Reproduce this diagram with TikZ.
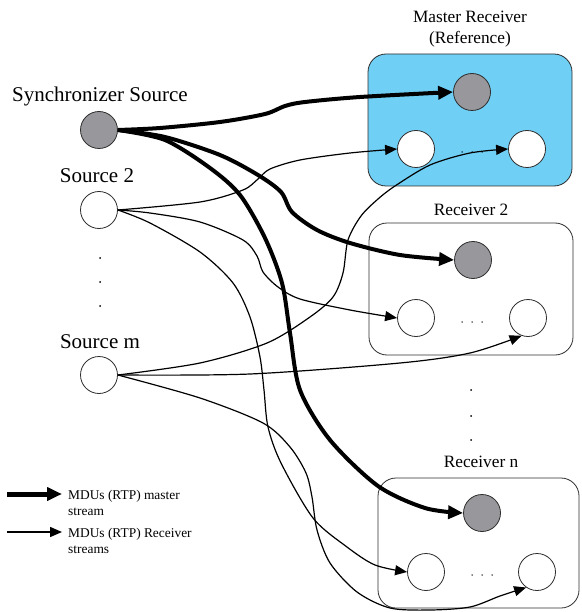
\documentclass[tikz,border=0pt]{standalone}
\usepackage{fontspec}
\setmainfont{Liberation Serif}
\usetikzlibrary{arrows.meta}
\definecolor{masterblue}{RGB}{112,207,245}
\definecolor{syncgray}{RGB}{152,152,156}
\definecolor{rim}{RGB}{45,45,45}
\begin{document}
\begin{tikzpicture}[x=1pt,y=-1pt,
  stream/.style={circle, draw=rim, line width=0.8pt, minimum size=37pt, inner sep=0pt, fill=white},
  syncstream/.style={stream, fill=syncgray},
  rbox/.style={draw=rim, line width=0.8pt, rounded corners=18pt, inner sep=0pt},
  bigtext/.style={font=\fontsize{21}{24}\selectfont, anchor=base, inner sep=0pt},
  rtext/.style={font=\fontsize{17.3}{20}\selectfont, anchor=base, inner sep=0pt},
  legtext/.style={font=\fontsize{13.4}{16}\selectfont, anchor=base west, inner sep=0pt},
  masterflow/.style={line width=4pt, line join=round, -{Triangle[length=15pt,width=13pt]}},
  recvflow/.style={line width=1.2pt, line join=round, -{Triangle[length=12pt,width=10pt]}},
  smalldot/.style={circle, fill=black, inner sep=0pt, minimum size=2pt}
]
\useasboundingbox (0,0) rectangle (581,612);

% receiver boxes
\node[rbox, fill=masterblue, minimum width=204pt, minimum height=132pt] (mbox) at (470,120) {};
\node[rbox, minimum width=204pt, minimum height=132pt] (r2box) at (471,289) {};
\node[rbox, minimum width=201pt, minimum height=130pt] (rnbox) at (478.5,543) {};

% labels
\node[bigtext] (lsync) at (100,102) {Synchronizer Source};
\node[bigtext] (lsrc2) at (97,183) {Source 2};
\node[bigtext] (lsrcm) at (100,348) {Source m};
\node[rtext] (lmaster) at (470,23) {Master Receiver};
\node[rtext] (lref) at (470,44) {(Reference)};
\node[rtext] (lr2) at (471,215) {Receiver 2};
\node[rtext] (lrn) at (481,467) {Receiver n};

% ellipsis dots
\foreach \y [count=\i] in {258,282,306} \node[smalldot] (sd\i) at (100,\y) {};
\foreach \y [count=\i] in {390,416,440} \node[smalldot] (rd\i) at (471,\y) {};
\foreach \x [count=\i] in {462,472,482} {
  \node[smalldot, minimum size=1.5pt] (md\i) at (\x,152) {};
  \node[smalldot, minimum size=1.5pt] (r2d\i) at (\x,322) {};
  \node[smalldot, minimum size=1.5pt] (rnd\i) at (\x+10,575) {};
}

% sources
\node[syncstream] (sync) at (99,130) {};
\node[stream] (src2) at (99,210) {};
\node[stream] (srcm) at (99,375) {};

% receiver streams
\node[syncstream] (mg) at (472,92) {};
\node[stream] (mw1) at (416,149) {};
\node[stream] (mw2) at (527,149) {};
\node[syncstream] (r2g) at (473,260) {};
\node[stream] (r2w1) at (416,318) {};
\node[stream] (r2w2) at (528,318) {};
\node[syncstream] (rng) at (482,513) {};
\node[stream] (rnw1) at (426,572) {};
\node[stream] (rnw2) at (537,572) {};

% master stream
\draw[masterflow] plot[smooth] coordinates {(sync.east) (160,128) (220,122) (265,114) (285,106) (305,102) (360,97) (mg.west)};
\draw[masterflow] plot[smooth] coordinates {(sync.east) (165,137) (220,155) (258,175) (281,192) (292,212) (317,230) (350,243) (400,255) (r2g.west)};
\draw[masterflow] plot[smooth] coordinates {(sync.east) (165,140) (210,168) (240,195) (265,238) (282,283) (290,333) (300,390) (330,440) (378,486) (425,508) (rng.west)};

% streams of source 2
\draw[recvflow] plot[smooth] coordinates {(src2.east) (200,202) (243,190) (258,179) (270,169) (300,160) (350,153) (mw1.west)};
\draw[recvflow] plot[smooth] coordinates {(src2.east) (150,213) (200,222) (243,240) (257,256) (263,272) (278,287) (300,299) (350,310) (r2w1.west)};
\draw[recvflow] plot[smooth] coordinates {(src2.east) (150,223) (200,252) (233,283) (250,317) (260,357) (264,390) (268,427) (281,463) (313,518) (347,547) (375,565) (rnw1.west)};

% streams of source m
\draw[recvflow] plot[smooth] coordinates {(srcm.east) (200,363) (267,343) (310,317) (333,297) (343,273) (348,240) (361,216) (378,199) (395,186) (430,165) (470,153) (mw2.west)};
\draw[recvflow] plot[smooth] coordinates {(srcm.east) (250,374) (400,363) (470,353) (r2w2.250)};
\draw[recvflow] plot[smooth] coordinates {(srcm.east) (200,398) (263,423) (290,447) (306,473) (312,497) (317,530) (330,563) (357,592) (390,608) (430,610) (470,607) (500,596) (rnw2.235)};

% legend
\coordinate (la1) at (7,494);
\coordinate (lb1) at (62,494);
\coordinate (la2) at (7,532);
\coordinate (lb2) at (62,532);
\draw[masterflow, line width=5pt] (la1) -- (lb1);
\draw[recvflow, line width=1.5pt] (la2) -- (lb2);
\node[legtext] (lt1) at (68,499) {MDUs (RTP) master};
\node[legtext] (lt1b) at (68,515) {stream};
\node[legtext] (lt2) at (68,537) {MDUs (RTP) Receiver};
\node[legtext] (lt2b) at (68,553) {streams};
\end{tikzpicture}
\end{document}
